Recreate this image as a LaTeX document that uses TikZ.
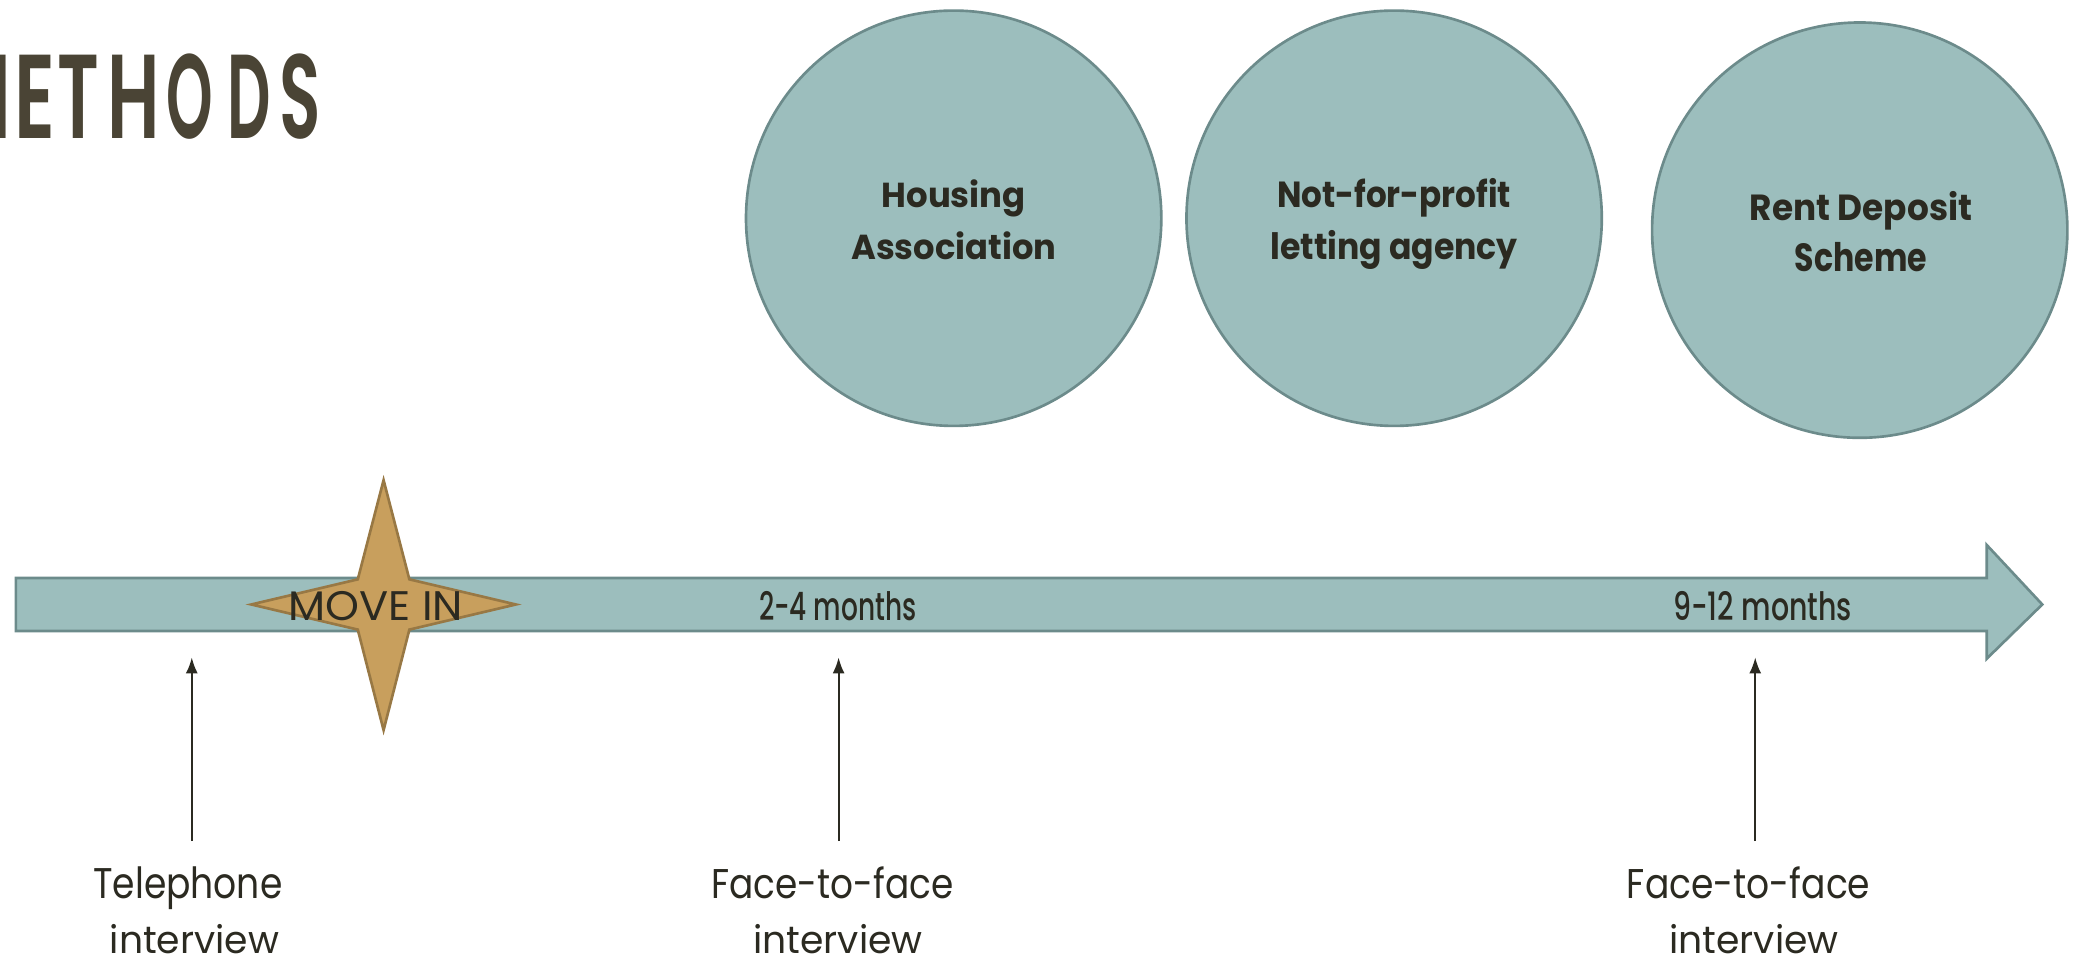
\documentclass[tikz,border=0pt]{standalone}
\usepackage{fontspec}
\setmainfont{Poppins}
\newfontfamily\popmed{Poppins Medium}
\newfontfamily\popsemi{Poppins SemiBold}
\usepackage{graphicx}
\usetikzlibrary{arrows.meta}
\definecolor{tlfill}{HTML}{9CBEBD}
\definecolor{tldraw}{HTML}{6C8B8B}
\definecolor{starfill}{HTML}{C89F5D}
\definecolor{stardraw}{HTML}{987844}
\definecolor{ink}{HTML}{2B2A21}
\definecolor{titleink}{HTML}{4A4435}
\newcommand{\fitto}[3]{\resizebox{#1pt}{#2pt}{#3}}
% a letter with its side bearings removed, so that the box is its ink
\newcommand{\inkbox}[1]{\hbox{\kern-\XeTeXglyphbounds1 \XeTeXcharglyph`#1 #1\kern-\XeTeXglyphbounds3 \XeTeXcharglyph`#1 }}
\tikzset{
  bubble/.style={circle, fill=tlfill, draw=tldraw, line width=2pt, inner sep=0pt},
  timeline/.style={fill=tlfill, draw=tldraw, line width=2pt, line join=miter},
  starshape/.style={fill=starfill, draw=stardraw, line width=2pt, line join=miter},
  lbl/.style={inner sep=0pt, anchor=base, text=ink},
  tletter/.style={inner sep=0pt, anchor=base west, text=titleink, font=\popsemi},
  pointer/.style={draw=ink, line width=1.5pt, -{Latex[length=12pt,width=9pt]}},
}
\begin{document}
\begin{tikzpicture}[x=1pt,y=-1pt]
\useasboundingbox (0,0) rectangle (1568,730);
\clip (0,0) rectangle (1568,730);
% title METHODS (its M runs off the left edge)
\node[tletter] (t1) at (-34,105) {\fitto{38.5}{63}{\inkbox{M}}};
\node[tletter] (t2) at (15,105) {\fitto{23.5}{63}{\inkbox{E}}};
\node[tletter] (t3) at (45,105) {\fitto{28}{63}{\inkbox{T}}};
\node[tletter] (t4) at (85,105) {\fitto{32}{63}{\inkbox{H}}};
\node[tletter] (t5) at (127,105) {\fitto{32}{64}{\inkbox{O}}};
\node[tletter] (t6) at (175,105) {\fitto{28}{63}{\inkbox{D}}};
\node[tletter] (t7) at (214,105) {\fitto{26}{64}{\inkbox{S}}};
% circles
\node[bubble, minimum size=314pt] (ha) at (721,165) {};
\node[bubble, minimum size=314pt] (nfp) at (1054,165) {};
\node[bubble, minimum size=314pt] (rds) at (1406,174) {};
\node[lbl] (ha1) at (721,157) {\bfseries\fitto{109}{21}{Housing}};
\node[lbl] (ha2) at (721,196) {\bfseries\fitto{155}{21}{Association}};
\node[lbl] (nfp1) at (1054,157) {\bfseries\fitto{177}{22}{Not-for-profit}};
\node[lbl] (nfp2) at (1054,196) {\bfseries\fitto{187}{22}{letting agency}};
\node[lbl] (rds1) at (1407,167) {\bfseries\fitto{168}{22}{Rent Deposit}};
\node[lbl] (rds2) at (1407,205) {\bfseries\fitto{100}{22}{Scheme}};
% timeline arrow
\draw[timeline] (12,437) -- (1502,437) -- (1502,412) -- (1544,457) -- (1502,498) -- (1502,477) -- (12,477) -- cycle;
% star
\draw[starshape] (290,363) -- (309.5,438) -- (390,457) -- (309.5,476) -- (290,552) -- (270.5,476) -- (190,457) -- (270.5,438) -- cycle;
\node[lbl] (move) at (284,469) {\fitto{132}{22}{MOVE IN}};
\node[lbl] (m24) at (633.5,469) {\popmed\fitto{119}{22}{2-4 months}};
\node[lbl] (m912) at (1332.5,469) {\popmed\fitto{135}{22}{9-12 months}};
% bottom labels
\node[lbl] (tel1) at (142,679) {\fitto{143}{24}{Telephone}};
\node[lbl] (tel2) at (147,721) {\fitto{128}{22}{interview}};
\node[lbl] (ff1) at (629.5,679) {\fitto{183}{24}{Face-to-face}};
\node[lbl] (ff2) at (633.5,721) {\fitto{128}{22}{interview}};
\node[lbl] (fr1) at (1322,679) {\fitto{184}{24}{Face-to-face}};
\node[lbl] (fr2) at (1326,721) {\fitto{128}{22}{interview}};
% pointers
\coordinate (p1a) at (145,636); \coordinate (p1b) at (145,497);
\coordinate (p2a) at (634,636); \coordinate (p2b) at (634,497);
\coordinate (p3a) at (1327,636); \coordinate (p3b) at (1327,497);
\draw[pointer] (p1a) -- (p1b);
\draw[pointer] (p2a) -- (p2b);
\draw[pointer] (p3a) -- (p3b);
\end{tikzpicture}
\end{document}
